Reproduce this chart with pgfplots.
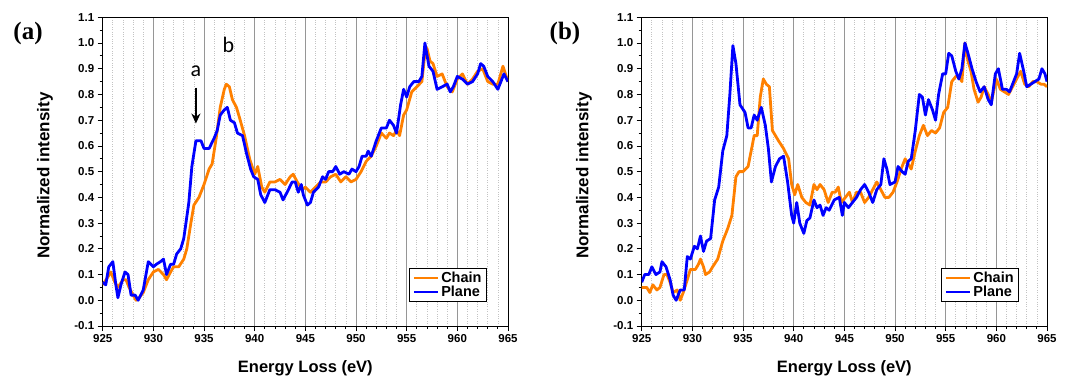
\documentclass[border=0pt]{standalone}
\usepackage{pgfplots}
\pgfplotsset{compat=1.18}
\usepackage{fontspec}
\setmainfont{Liberation Sans}
\newfontfamily\tnr{Liberation Serif}
\newfontfamily\calib{Carlito}
\usetikzlibrary{arrows.meta}
\definecolor{corange}{RGB}{255,128,0}
\definecolor{cblue}{RGB}{0,0,255}
\definecolor{majgrid}{RGB}{150,150,150}
\definecolor{mingrid}{RGB}{195,195,195}

\pgfplotsset{
  eelsaxis/.style={
    scale only axis, width=405.3bp, height=308.7bp,
    xmin=925, xmax=965, ymin=-0.1, ymax=1.1,
    xtick={925,930,...,965},
    ytick={-0.1,0,0.1,0.2,0.3,0.4,0.5,0.6,0.7,0.8,0.9,1.0,1.1},
    minor x tick num=4, minor y tick num=1,
    tick pos=left, tick align=outside,
    major tick length=5bp, minor tick length=3bp,
    every tick/.style={black, line width=0.8bp},
    xmajorgrids, xminorgrids,
    major grid style={majgrid, line width=0.9bp},
    minor grid style={mingrid, dotted, line width=0.7bp},
    axis line style={black, line width=1bp},
    /pgf/number format/assume math mode=true,
    yticklabel style={/pgf/number format/fixed, /pgf/number format/fixed zerofill, /pgf/number format/precision=1},
    xticklabel style={/pgf/number format/1000 sep={}},
    ticklabel style={font=\fontsize{11.5bp}{13bp}\selectfont\bfseries},
    xlabel={Energy Loss (eV)},
    ylabel={Normalized intensity},
    xlabel style={font=\fontsize{16.5bp}{19bp}\selectfont\bfseries, at={(rel axis cs:0.5,-0.136)}, anchor=center},
    ylabel style={font=\fontsize{17bp}{20bp}\selectfont\bfseries, at={(rel axis cs:-0.1424,0.487)}, anchor=center},
    legend style={draw=black, line width=0.8bp, fill=white,
      font=\fontsize{14.5bp}{17bp}\selectfont\bfseries,
      inner xsep=3bp, inner ysep=1.5bp, row sep=-2bp, cells={anchor=west}},
    legend image code/.code={\draw[#1, line width=2.8bp] (0bp,0bp) -- (24bp,0bp);},
    every axis plot/.append style={line width=2.8bp, line join=round, no marks},
  }
}

\begin{document}
\begin{tikzpicture}
\begin{axis}[eelsaxis, at={(102.7bp,53bp)}, anchor=south west,
  legend style={at={(0.948,0.078)}, anchor=south east}]
\addplot[corange] coordinates {
(925.0,0.06)(925.5,0.09)(925.8,0.11)(926.2,0.07)(926.5,0.05)(927.0,0.08)(927.3,0.08)(927.6,0.05)
(928.0,0.02)(928.3,0.00)(928.6,0.01)(929.0,0.03)(929.5,0.08)(930.0,0.11)(930.5,0.12)(931.0,0.10)
(931.3,0.08)(931.7,0.11)(932.0,0.13)(932.5,0.13)(933.0,0.16)(933.3,0.20)(933.7,0.30)(934.0,0.37)
(934.5,0.40)(935.0,0.45)(935.5,0.51)(935.8,0.53)(936.2,0.63)(936.6,0.75)(937.0,0.82)(937.2,0.84)
(937.5,0.83)(937.8,0.78)(938.2,0.75)(938.5,0.71)(939.0,0.64)(939.5,0.55)(940.0,0.49)(940.3,0.52)
(940.7,0.44)(941.0,0.42)(941.5,0.46)(942.0,0.46)(942.5,0.47)(943.0,0.45)(943.5,0.48)(943.8,0.49)
(944.2,0.46)(944.7,0.43)(945.0,0.44)(945.5,0.42)(946.0,0.44)(946.5,0.46)(947.0,0.46)(947.5,0.48)
(948.0,0.49)(948.5,0.46)(949.0,0.48)(949.5,0.46)(950.0,0.47)(950.5,0.50)(951.0,0.54)(951.5,0.56)
(952.0,0.60)(952.5,0.65)(953.0,0.63)(953.3,0.65)(953.7,0.64)(954.0,0.66)(954.3,0.64)(954.7,0.72)
(955.0,0.74)(955.5,0.81)(956.0,0.83)(956.5,0.85)(956.8,0.96)(957.0,0.98)(957.3,0.93)(957.6,0.92)
(958.0,0.87)(958.5,0.88)(959.0,0.83)(959.5,0.81)(960.0,0.86)(960.5,0.88)(961.0,0.84)(961.5,0.86)
(962.0,0.89)(962.5,0.90)(963.0,0.85)(963.5,0.84)(964.0,0.84)(964.5,0.91)(965.0,0.85)
};
\addlegendentry{Chain}
\addplot[cblue] coordinates {
(925.0,0.07)(925.3,0.06)(925.6,0.13)(926.0,0.15)(926.3,0.06)(926.5,0.01)(926.8,0.06)(927.2,0.11)
(927.5,0.10)(927.8,0.02)(928.2,0.02)(928.5,0.00)(929.0,0.04)(929.5,0.15)(930.0,0.13)(930.3,0.14)
(930.7,0.15)(931.0,0.16)(931.3,0.10)(931.7,0.14)(932.0,0.14)(932.3,0.18)(932.7,0.20)(933.0,0.24)
(933.5,0.38)(933.8,0.52)(934.2,0.62)(934.7,0.62)(935.0,0.59)(935.5,0.59)(936.0,0.63)(936.3,0.66)
(936.6,0.72)(937.0,0.74)(937.3,0.75)(937.6,0.70)(938.0,0.69)(938.3,0.65)(938.8,0.64)(939.2,0.57)
(939.6,0.51)(939.9,0.48)(940.3,0.47)(940.6,0.41)(941.0,0.38)(941.5,0.43)(942.0,0.43)(942.5,0.42)
(942.8,0.39)(943.2,0.42)(943.7,0.46)(944.0,0.46)(944.3,0.42)(944.6,0.45)(944.8,0.41)(945.2,0.37)
(945.5,0.38)(945.8,0.42)(946.3,0.44)(946.7,0.48)(947.0,0.47)(947.3,0.50)(947.7,0.50)(948.0,0.52)
(948.4,0.49)(948.8,0.50)(949.3,0.49)(949.6,0.51)(950.0,0.50)(950.3,0.52)(950.6,0.56)(951.0,0.56)
(951.2,0.58)(951.5,0.56)(952.0,0.62)(952.5,0.67)(953.0,0.67)(953.3,0.70)(953.7,0.68)(954.0,0.65)
(954.4,0.76)(954.7,0.82)(955.0,0.79)(955.3,0.83)(955.7,0.85)(956.2,0.85)(956.5,0.87)(956.8,1.00)
(957.2,0.91)(957.6,0.89)(958.0,0.82)(958.5,0.83)(959.0,0.84)(959.3,0.81)(959.6,0.83)(960.0,0.87)
(960.5,0.86)(961.0,0.84)(961.5,0.85)(962.0,0.88)(962.3,0.92)(962.6,0.91)(963.0,0.87)(963.5,0.85)
(964.0,0.82)(964.3,0.85)(964.6,0.88)(965.0,0.85)
};
\addlegendentry{Plane}
\draw[-{Stealth[length=10bp,width=9bp]}, line width=2.2bp, black] (axis cs:934.2,0.827) -- (axis cs:934.2,0.687);
\node[font=\calib\fontsize{22bp}{24bp}\selectfont, anchor=base] at (axis cs:934.2,0.868) {a};
\node[font=\calib\fontsize{22bp}{24bp}\selectfont, anchor=base] at (axis cs:937.4,0.964) {b};
\end{axis}

\begin{axis}[eelsaxis, at={(641.7bp,53bp)}, anchor=south west,
  legend style={at={(0.931,0.078)}, anchor=south east}]
\addplot[corange] coordinates {
(925.0,0.05)(925.5,0.05)(925.8,0.03)(926.1,0.06)(926.5,0.04)(926.8,0.05)(927.2,0.10)(927.5,0.10)
(927.8,0.07)(928.1,0.03)(928.5,0.04)(928.8,0.00)(929.1,0.03)(929.5,0.08)(929.8,0.12)(930.3,0.12)
(930.6,0.14)(930.8,0.16)(931.1,0.13)(931.3,0.10)(931.7,0.11)(932.0,0.13)(932.5,0.16)(933.0,0.23)
(933.5,0.28)(933.9,0.33)(934.3,0.48)(934.6,0.50)(935.0,0.50)(935.5,0.52)(935.8,0.58)(936.1,0.64)
(936.4,0.64)(936.7,0.79)(937.0,0.86)(937.3,0.84)(937.6,0.83)(937.9,0.66)(938.2,0.64)(938.5,0.62)
(939.0,0.59)(939.5,0.55)(939.8,0.45)(940.1,0.41)(940.4,0.45)(940.8,0.40)(941.2,0.38)(941.6,0.37)
(942.0,0.45)(942.3,0.43)(942.6,0.45)(943.0,0.43)(943.4,0.38)(943.8,0.42)(944.1,0.42)(944.4,0.44)
(944.7,0.38)(945.1,0.40)(945.5,0.42)(945.8,0.38)(946.2,0.42)(946.6,0.42)(947.0,0.38)(947.4,0.40)
(947.8,0.43)(948.2,0.46)(948.6,0.43)(949.0,0.40)(949.4,0.40)(949.8,0.42)(950.2,0.46)(950.6,0.51)
(951.0,0.55)(951.3,0.53)(951.6,0.51)(952.0,0.58)(952.4,0.64)(952.8,0.68)(953.2,0.64)(953.6,0.66)
(954.0,0.65)(954.4,0.67)(954.8,0.73)(955.2,0.75)(955.6,0.85)(956.0,0.87)(956.3,0.87)(956.6,0.85)
(956.9,1.00)(957.2,0.93)(957.5,0.89)(957.8,0.82)(958.2,0.77)(958.5,0.79)(958.8,0.83)(959.2,0.80)
(959.5,0.77)(960.0,0.86)(960.4,0.82)(960.8,0.81)(961.2,0.80)(961.6,0.83)(962.0,0.86)(962.4,0.89)
(962.8,0.84)(963.2,0.83)(963.6,0.85)(964.0,0.85)(964.4,0.84)(964.7,0.84)(965.0,0.83)
};
\addlegendentry{Chain}
\addplot[cblue] coordinates {
(925.0,0.07)(925.3,0.10)(925.7,0.10)(926.0,0.13)(926.4,0.10)(926.8,0.11)(927.0,0.15)(927.4,0.13)
(927.8,0.08)(928.1,0.02)(928.4,0.00)(928.8,0.04)(929.2,0.04)(929.5,0.17)(929.8,0.16)(930.2,0.21)
(930.5,0.20)(930.8,0.25)(931.1,0.19)(931.4,0.23)(931.8,0.24)(932.2,0.39)(932.6,0.44)(933.0,0.58)
(933.4,0.64)(933.7,0.80)(934.0,0.99)(934.3,0.92)(934.7,0.76)(935.2,0.73)(935.5,0.67)(935.8,0.67)
(936.1,0.72)(936.4,0.70)(936.8,0.75)(937.2,0.68)(937.5,0.59)(937.8,0.46)(938.2,0.52)(938.6,0.55)
(939.0,0.56)(939.4,0.46)(939.8,0.33)(940.0,0.30)(940.3,0.38)(940.6,0.30)(941.0,0.26)(941.3,0.31)
(941.6,0.32)(942.0,0.39)(942.3,0.36)(942.6,0.37)(942.9,0.33)(943.2,0.36)(943.5,0.35)(944.0,0.39)
(944.5,0.40)(944.8,0.33)(945.0,0.38)(945.4,0.36)(945.8,0.38)(946.2,0.40)(946.6,0.43)(947.0,0.45)
(947.4,0.42)(947.8,0.38)(948.2,0.43)(948.6,0.45)(948.9,0.55)(949.2,0.51)(949.5,0.45)(950.0,0.46)
(950.3,0.52)(950.7,0.50)(951.0,0.49)(951.3,0.54)(951.6,0.55)(952.0,0.66)(952.4,0.80)(952.7,0.79)
(953.0,0.72)(953.3,0.78)(953.7,0.74)(954.0,0.70)(954.3,0.80)(954.7,0.88)(955.0,0.88)(955.3,0.96)
(955.6,0.95)(956.0,0.89)(956.3,0.86)(956.6,0.90)(956.9,1.00)(957.2,0.96)(957.6,0.90)(958.0,0.85)
(958.4,0.81)(958.8,0.83)(959.2,0.78)(959.5,0.76)(959.9,0.88)(960.2,0.90)(960.6,0.82)(961.0,0.82)
(961.3,0.81)(961.7,0.85)(962.0,0.88)(962.3,0.96)(962.7,0.89)(963.0,0.83)(963.4,0.84)(963.8,0.85)
(964.2,0.86)(964.5,0.90)(964.8,0.88)(965.0,0.85)
};
\addlegendentry{Plane}
\end{axis}

\node[font=\tnr\bfseries\fontsize{25bp}{27bp}\selectfont] at (28bp,346bp) {(a)};
\node[font=\tnr\bfseries\fontsize{25bp}{27bp}\selectfont] at (565bp,346bp) {(b)};

\pgfresetboundingbox
\path[use as bounding box] (0,0) rectangle (1073bp,379bp);
\end{tikzpicture}
\end{document}
